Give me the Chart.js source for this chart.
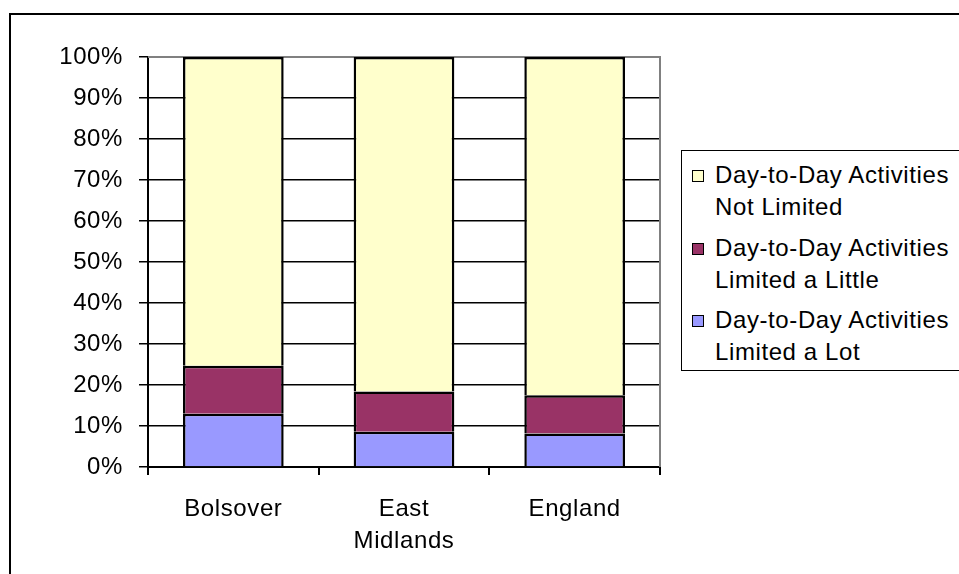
<!DOCTYPE html>
<html>
<head>
<meta charset="utf-8">
<script src="https://cdn.jsdelivr.net/npm/chart.js@4.4.1/dist/chart.umd.min.js"></script>
<style>
html, body { margin:0; padding:0; width:959px; height:574px; overflow:hidden; background:#fff; }
#frame { position:absolute; left:9px; top:13px; width:1000px; height:620px; border:2px solid #000; }
#chart { position:absolute; left:0; top:0; }
#legend {
  position:absolute; left:681px; top:150px; width:400px; height:221px;
  border:1.5px solid #000; background:#fff; box-sizing:border-box; padding-top:8px;
  font-family:"Liberation Sans", Arial, sans-serif; font-size:24px; letter-spacing:0.6px; color:#000;
}
.item { position:relative; padding-left:33px; line-height:32px; margin-bottom:8.5px; }
.sw { position:absolute; left:10px; top:11px; width:10px; height:10px; border:1px solid #000; }
</style>
</head>
<body>
<div id="frame"></div>
<canvas id="chart" width="959" height="574"></canvas>
<div id="legend"></div>
<script>
// data (percent of population)
const categories = [["Bolsover"], ["East", "Midlands"], ["England"]];
const limitedALot = [13.0, 8.6, 8.2];
const limitedALittle = [11.7, 9.8, 9.3];
const notLimited = [75.3, 81.6, 82.5];
const yTickValues = [0, 10, 20, 30, 40, 50, 60, 70, 80, 90, 100];

const seriesNames = [
  ["Day-to-Day Activities", "Limited a Lot"],
  ["Day-to-Day Activities", "Limited a Little"],
  ["Day-to-Day Activities", "Not Limited"]
];
const seriesColors = ["#9999ff", "#993366", "#ffffcc"];

const FONT = "'Liberation Sans', Arial, sans-serif";

// gray plot border at top and right, under the bars
const plotBorder = {
  id: "plotBorder",
  beforeDraw(chart) { chart.ctx.letterSpacing = "0.6px"; },
  beforeDatasetsDraw(chart) {
    const { ctx, chartArea: a } = chart;
    ctx.save();
    ctx.strokeStyle = "#808080";
    ctx.lineWidth = 2;
    ctx.beginPath();
    ctx.moveTo(a.left, a.top);
    ctx.lineTo(a.right, a.top);
    ctx.lineTo(a.right, a.bottom);
    ctx.stroke();
    ctx.restore();
  }
};

const datasets = [limitedALot, limitedALittle, notLimited].map((vals, i) => ({
  label: seriesNames[i].join(" "),
  data: vals,
  backgroundColor: seriesColors[i],
  borderColor: "#000",
  borderWidth: 2.5,
  borderSkipped: "start",
  barPercentage: 0.59,
  categoryPercentage: 1
}));

new Chart(document.getElementById("chart"), {
  type: "bar",
  data: { labels: categories, datasets: datasets },
  options: {
    responsive: false,
    animation: false,
    layout: { padding: { top: 57, right: 299, left: 0, bottom: 0 } },
    plugins: { legend: { display: false }, tooltip: { enabled: false } },
    scales: {
      x: {
        stacked: true,
        afterFit(s) { s.height = 107; },
        grid: { offset: true, drawOnChartArea: false, drawTicks: true, tickLength: 8, color: "#000", lineWidth: 2 },
        border: { color: "#000", width: 2 },
        ticks: { color: "#000", padding: 18, font: { family: FONT, size: 24, lineHeight: 1.33 } }
      },
      y: {
        stacked: true,
        min: 0, max: 100,
        afterFit(s) { s.width = 148; },
        afterBuildTicks(s) { s.ticks = yTickValues.map(v => ({ value: v })); },
        grid: { color: "#000", lineWidth: 1.5, tickLength: 9 },
        border: { color: "#000", width: 2 },
        ticks: { color: "#000", padding: 16, font: { family: FONT, size: 24 }, callback: v => v + "%" }
      }
    }
  },
  plugins: [plotBorder]
});

// legend: top series first, as in the reference
const legend = document.getElementById("legend");
for (let i = seriesNames.length - 1; i >= 0; i--) {
  const item = document.createElement("div");
  item.className = "item";
  const sw = document.createElement("span");
  sw.className = "sw";
  sw.style.background = seriesColors[i];
  item.appendChild(sw);
  item.appendChild(document.createTextNode(seriesNames[i][0]));
  item.appendChild(document.createElement("br"));
  item.appendChild(document.createTextNode(seriesNames[i][1]));
  legend.appendChild(item);
}
</script>
</body>
</html>
